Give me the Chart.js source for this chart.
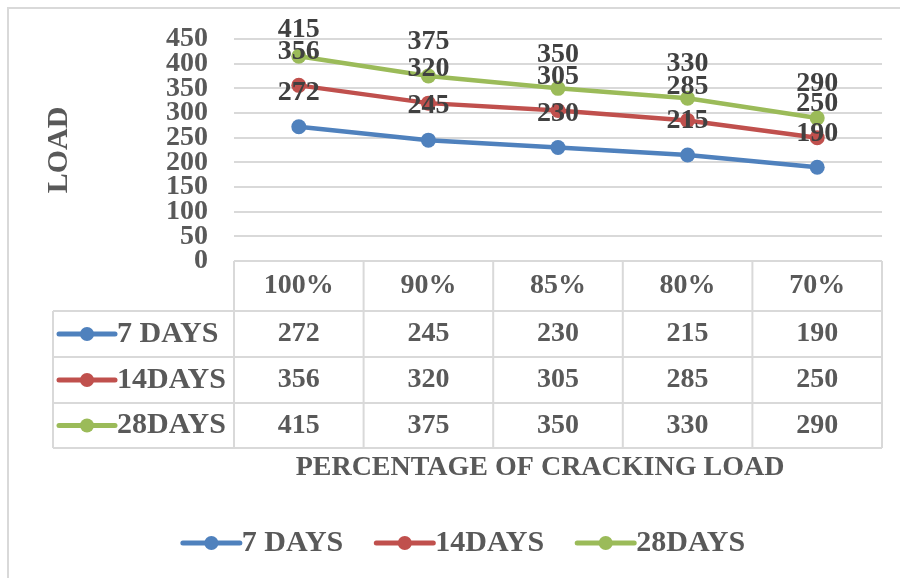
<!DOCTYPE html>
<html>
<head>
  <meta charset="utf-8">
  <script src="https://cdn.jsdelivr.net/npm/chart.js@4"></script>
  <style>
    body { margin: 0; background: #fff; }
    canvas { display: block; }
  </style>
</head>
<body>
<canvas id="loadChart" width="900" height="578"></canvas>
<script>
  const categories = ['100%', '90%', '85%', '80%', '70%'];
  const seriesNames = ['7 DAYS', '14DAYS', '28DAYS'];
  const days7 = [272, 245, 230, 215, 190];
  const days14 = [356, 320, 305, 285, 250];
  const days28 = [415, 375, 350, 330, 290];
  const colors = ['#4F81BD', '#C0504D', '#9BBB59'];

  const FONT = '"Liberation Serif", "Times New Roman", serif';
  const GRID = '#d9d9d9';
  const TEXT = '#595959';

  // labels over the points, sitting a bit above like the Excel export
  const pointLabels = {
    id: 'pointLabels',
    afterDatasetsDraw(chart) {
      const ctx = chart.ctx;
      ctx.save();
      ctx.font = 'bold 28px ' + FONT;
      ctx.fillStyle = '#404040';
      ctx.textAlign = 'center';
      ctx.textBaseline = 'middle';
      chart.data.datasets.forEach((ds, i) => {
        chart.getDatasetMeta(i).data.forEach((pt, j) => {
          // keep labels inside the frame, as Excel does
          const y = Math.max(pt.y - 34, 30);
          ctx.fillText(String(ds.data[j]), pt.x, y);
        });
      });
      ctx.restore();
    }
  };

  // data table under the plot + legend + outer frame
  const dataTable = {
    id: 'dataTable',
    afterDraw(chart) {
      const ctx = chart.ctx;
      const area = chart.chartArea;
      const xs = chart.scales.x;
      const colW = (area.right - area.left) / categories.length;
      const top = area.bottom;
      const rows = [top, 311, 357, 403, 448];
      const nameLeft = 53;

      ctx.save();
      ctx.strokeStyle = GRID;
      ctx.lineWidth = 2;
      // frame
      ctx.strokeRect(8, 8, 920, 600);

      // horizontal lines
      ctx.beginPath();
      ctx.moveTo(area.left, rows[0]); ctx.lineTo(area.right, rows[0]);
      for (let r = 1; r < rows.length; r++) {
        ctx.moveTo(nameLeft, rows[r]); ctx.lineTo(area.right, rows[r]);
      }
      // vertical lines
      for (let c = 0; c <= categories.length; c++) {
        const x = area.left + c * colW;
        ctx.moveTo(x, rows[0]); ctx.lineTo(x, rows[4]);
      }
      ctx.moveTo(nameLeft, rows[1]); ctx.lineTo(nameLeft, rows[4]);
      ctx.stroke();

      ctx.font = 'bold 28px ' + FONT;
      ctx.fillStyle = TEXT;
      ctx.textAlign = 'center';
      ctx.textBaseline = 'middle';
      categories.forEach((c, i) => {
        ctx.fillText(c, xs.getPixelForValue(i), (rows[0] + rows[1]) / 2);
      });
      chart.data.datasets.forEach((ds, s) => {
        const cy = (rows[s + 1] + rows[s + 2]) / 2;
        ctx.font = 'bold 28px ' + FONT;
        ctx.fillStyle = TEXT;
        ctx.textAlign = 'center';
        ds.data.forEach((v, i) => {
          ctx.fillText(String(v), xs.getPixelForValue(i), cy);
        });
        drawMarker(ctx, 59, 115, cy, colors[s]);
        ctx.font = 'bold 30px ' + FONT;
        ctx.fillStyle = TEXT;
        ctx.textAlign = 'left';
        ctx.fillText(seriesNames[s], 117, cy);
      });

      // axis title
      ctx.font = 'bold 28px ' + FONT;
      ctx.textAlign = 'center';
      ctx.fillText('PERCENTAGE OF CRACKING LOAD', 540, 468);

      // legend
      ctx.font = 'bold 30px ' + FONT;
      const legendY = 543;
      const markW = 57;
      const gap = 33;
      const widths = seriesNames.map(n => ctx.measureText(n).width);
      let total = 0;
      widths.forEach((w, i) => { total += markW + 2 + w + (i < widths.length - 1 ? gap : 0); });
      let x = 464 - total / 2;
      ctx.textAlign = 'left';
      seriesNames.forEach((n, i) => {
        drawMarker(ctx, x, x + markW, legendY, colors[i]);
        ctx.fillStyle = TEXT;
        ctx.fillText(n, x + markW + 2, legendY);
        x += markW + 2 + widths[i] + gap;
      });
      ctx.restore();
    }
  };

  function drawMarker(ctx, x1, x2, y, color) {
    ctx.save();
    ctx.strokeStyle = color;
    ctx.fillStyle = color;
    ctx.lineWidth = 5;
    ctx.lineCap = 'round';
    ctx.beginPath();
    ctx.moveTo(x1, y); ctx.lineTo(x2, y);
    ctx.stroke();
    ctx.beginPath();
    ctx.arc((x1 + x2) / 2, y, 7, 0, Math.PI * 2);
    ctx.fill();
    ctx.restore();
  }

  const seriesData = [days7, days14, days28];

  new Chart(document.getElementById('loadChart'), {
    type: 'line',
    data: {
      labels: categories,
      datasets: seriesData.map((d, i) => ({
        label: seriesNames[i],
        data: d,
        borderColor: colors[i],
        backgroundColor: colors[i],
        borderWidth: 4.5,
        pointRadius: 7.5,
        pointHoverRadius: 7.5,
        pointBorderWidth: 0,
        tension: 0
      }))
    },
    options: {
      responsive: false,
      animation: false,
      layout: { padding: { left: 8, top: 39, right: 18, bottom: 317 } },
      plugins: {
        legend: { display: false },
        tooltip: { enabled: false }
      },
      scales: {
        x: { display: false, offset: true },
        y: {
          min: 0,
          max: 450,
          afterFit(scale) {
            scale.width = 226;
            scale.paddingTop = 0;
            scale.paddingBottom = 0;
          },
          border: { display: false },
          grid: { color: GRID, lineWidth: 2, drawTicks: false },
          ticks: {
            stepSize: 50,
            autoSkip: false,
            padding: 26,
            color: TEXT,
            font: { family: FONT, size: 28, weight: 'bold' }
          },
          title: {
            display: true,
            text: 'LOAD',
            color: TEXT,
            padding: { top: 33, bottom: 0 },
            font: { family: FONT, size: 30, weight: 'bold' }
          }
        }
      }
    },
    plugins: [pointLabels, dataTable]
  });
</script>
</body>
</html>
